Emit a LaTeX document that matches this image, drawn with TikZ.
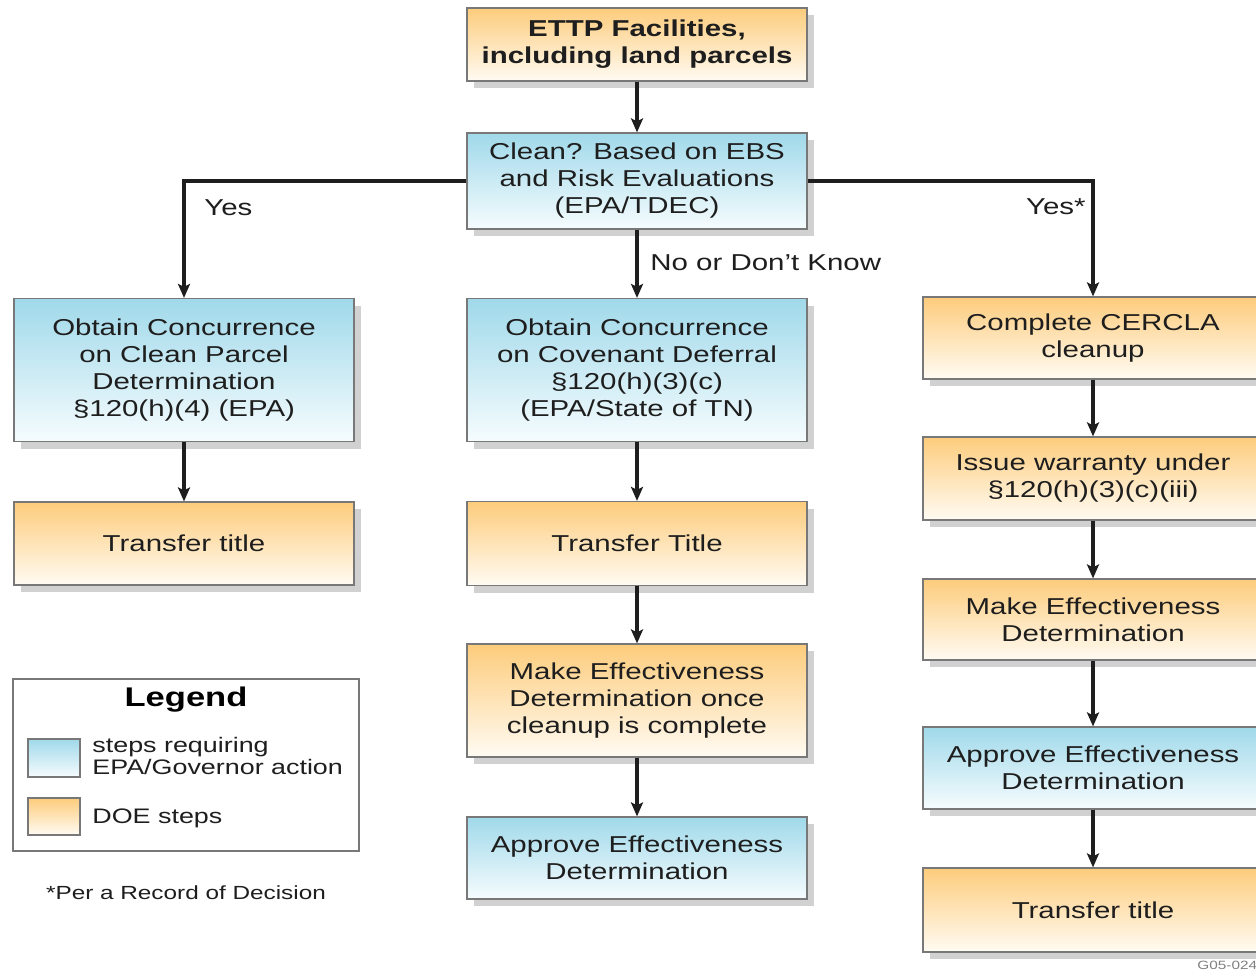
\documentclass[tikz,border=0pt]{standalone}
\usepackage{fontspec}
\setmainfont{Liberation Sans}[FakeStretch=1.28]
\usetikzlibrary{shadows,arrows.meta}
\definecolor{orTop}{RGB}{253,204,124}
\definecolor{orBot}{RGB}{255,251,243}
\definecolor{blTop}{RGB}{160,217,234}
\definecolor{blBot}{RGB}{246,252,254}
\definecolor{edge}{RGB}{120,120,120}
\definecolor{ink}{RGB}{30,30,30}
\begin{document}
\begin{tikzpicture}[x=0.5pt,y=-0.5pt,
 box/.style={draw=edge, line width=0.6pt, minimum width=170pt, align=center,
   font=\fontsize{11.5}{13.5}\selectfont, text=ink, inner sep=0pt,
   drop shadow={shadow xshift=3.5pt, shadow yshift=-3.5pt, fill=black!18, opacity=1}},
 doe/.style={box, top color=orTop, bottom color=orBot},
 epa/.style={box, top color=blTop, bottom color=blBot},
 arr/.style={draw=ink, line width=1.6pt, -{Stealth[length=7pt,width=6pt,inset=1.5pt]}},
 lbl/.style={font=\fontsize{11.5}{13.5}\selectfont, text=ink, inner sep=0pt},
 lgtxt/.style={font=\fontsize{10.5}{9}\selectfont, text=ink, inner sep=0pt, align=left},
 swatch/.style={draw=edge, line width=0.6pt, minimum width=26pt, minimum height=19pt, inner sep=0pt}
]
\useasboundingbox (0,0) rectangle (1256,971);
\fill[white] (0,0) rectangle (1256,971);
\clip (0,0) rectangle (1256,971);

% main column
\node[doe, minimum height=36.5pt, font=\bfseries\fontsize{11.5}{13.5}\selectfont] (top) at (637,44.5) {ETTP Facilities,\\including land parcels};
\node[epa, minimum height=48pt] (clean) at (637,181) {Clean? Based on EBS\\and Risk Evaluations\\(EPA/TDEC)};

% left column
\node[epa, minimum height=71.5pt] (L1) at (184,370) {Obtain Concurrence\\on Clean Parcel\\Determination\\§120(h)(4) (EPA)};
\node[doe, minimum height=41.5pt] (L2) at (184,543.5) {Transfer title};

% middle column
\node[epa, minimum height=71.5pt] (M1) at (637,370) {Obtain Concurrence\\on Covenant Deferral\\§120(h)(3)(c)\\(EPA/State of TN)};
\node[doe, minimum height=42pt] (M2) at (637,543.5) {Transfer Title};
\node[doe, minimum height=56.5pt] (M3) at (637,700.5) {Make Effectiveness\\Determination once\\cleanup is complete};
\node[epa, minimum height=41pt] (M4) at (637,858) {Approve Effectiveness\\Determination};

% right column
\node[doe, minimum height=41pt] (R1) at (1093,338) {Complete CERCLA\\cleanup};
\node[doe, minimum height=41.5pt] (R2) at (1093,478.5) {Issue warranty under\\§120(h)(3)(c)(iii)};
\node[doe, minimum height=40.5pt] (R3) at (1093,619.5) {Make Effectiveness\\Determination};
\node[epa, minimum height=41pt] (R4) at (1093,768) {Approve Effectiveness\\Determination};
\node[doe, minimum height=42pt] (R5) at (1093,910) {Transfer title};

% connectors
\draw[arr] (top) -- (clean);
\draw[arr] (clean.west) -| (L1.north);
\draw[arr] (clean.east) -| (R1.north);
\draw[arr] (clean) -- (M1);
\draw[arr] (L1) -- (L2);
\draw[arr] (M1) -- (M2);
\draw[arr] (M2) -- (M3);
\draw[arr] (M3) -- (M4);
\draw[arr] (R1) -- (R2);
\draw[arr] (R2) -- (R3);
\draw[arr] (R3) -- (R4);
\draw[arr] (R4) -- (R5);

% labels
\node[lbl, anchor=west] (yesL) at (204,208) {Yes};
\node[lbl, anchor=east] (yesR) at (1086,207) {Yes*};
\node[lbl, anchor=west] (nodk) at (650,263) {No or Don't Know};

% legend
\node[draw=edge, line width=0.6pt, minimum width=173pt, minimum height=86pt, inner sep=0pt] (leg) at (186,765) {};
\node[font=\bfseries\fontsize{13.5}{16}\selectfont, text=black, inner sep=0pt] (legT) at (186,700) {Legend};
\node[swatch, top color=blTop, bottom color=blBot] (sw1) at (54,758) {};
\node[swatch, top color=orTop, bottom color=orBot, minimum height=18.5pt] (sw2) at (54,816.5) {};
\node[lgtxt, anchor=west] (t1) at (92,756) {steps requiring\\EPA/Governor action};
\node[lgtxt, anchor=west] (t2) at (92,818) {DOE steps};
\node[font=\fontsize{9.5}{11}\selectfont, text=ink, inner sep=0pt] (note) at (186,893) {*Per a Record of Decision};
\node[font=\fontsize{6}{7}\selectfont, text=gray, anchor=west, inner sep=0pt] (code) at (1197,965) {G05-024};
\end{tikzpicture}
\end{document}
